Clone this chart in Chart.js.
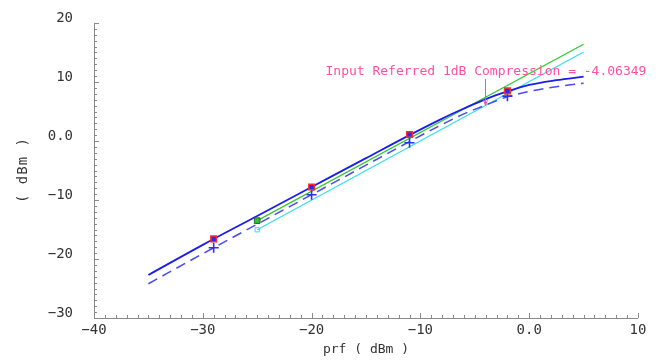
<!DOCTYPE html>
<html>
<head>
<meta charset="utf-8">
<script src="https://cdn.jsdelivr.net/npm/chart.js@4.4.1/dist/chart.umd.min.js"></script>
<style>
  html, body { margin: 0; padding: 0; background: #fff; }
  #wrap { width: 667px; height: 361px; }
</style>
</head>
<body>
<div id="wrap"><canvas id="c" width="667" height="361"></canvas></div>
<script>
// prf sweep (dBm) and output curves
const curveX = [-35, -30, -25, -20, -15, -11, -8, -6, -4, -2, 0, 2.5, 5];
const solidY = [-22.7, -17.6, -12.7, -7.8, -2.9, 1.0, 3.8, 5.5, 7.1, 8.4, 9.5, 10.3, 10.9];
const dashY  = [-24.2, -19.1, -14.1, -9.1, -4.1, -0.1, 2.8, 4.6, 6.1, 7.5, 8.4, 9.2, 9.8];

// extrapolated lines
const greenX = [-25, 5];
const greenY = [-13.5, 16.4];
const cyanX = [-25, 5];
const cyanY = [-15.05, 15.1];

// markers
const markX = [-29, -20, -11, -2];
const markY = [-16.6, -7.8, 1.1, 8.5];
const markDashY = [-18.1, -9.1, -0.3, 7.6];

const xTicks = [-40, -30, -20, -10, 0, 10];
const yTicks = [-30, -20, -10, 0, 20, 10];

const compX = -4.06349;
const compY = 6.0;
const compLabel = 'Input Referred 1dB Compression = -4.06349';

const FONT = '"DejaVu Sans Mono", "Liberation Mono", monospace';

function pts(xs, ys) {
    return xs.map((x, i) => ({ x: x, y: ys[i] }));
}

function fmt(v) {
    if (v === 0) return '0.0';
    return v < 0 ? '\u2212' + Math.abs(v) : String(v);
}

// axis lines + inward minor ticks, drawn from the scales
const axesPlugin = {
    id: 'cadenceAxes',
    beforeDatasetsDraw(chart) {
        const ctx = chart.ctx;
        const xs = chart.scales.x, ys = chart.scales.y;
        const left = xs.getPixelForValue(-40), right = xs.getPixelForValue(10);
        const top = ys.getPixelForValue(20), bottom = ys.getPixelForValue(-30);
        ctx.save();
        ctx.strokeStyle = '#8a8a8a';
        ctx.lineWidth = 1;
        ctx.beginPath();
        ctx.moveTo(left + 0.5, top);
        ctx.lineTo(left + 0.5, bottom + 0.5);
        ctx.lineTo(right, bottom + 0.5);
        ctx.stroke();
        ctx.beginPath();
        for (let v = -30; v <= 20; v++) {
            const py = Math.round(ys.getPixelForValue(v)) + 0.5;
            const len = v % 10 === 0 ? 5 : 3;
            ctx.moveTo(left, py);
            ctx.lineTo(left + len, py);
        }
        for (let v = -40; v <= 10; v++) {
            const px = Math.round(xs.getPixelForValue(v)) + 0.5;
            const len = v % 10 === 0 ? 5 : 3;
            ctx.moveTo(px, bottom);
            ctx.lineTo(px, bottom - len);
        }
        ctx.stroke();

        // axis titles
        ctx.fillStyle = '#333';
        ctx.font = '13px ' + FONT;
        ctx.textAlign = 'center';
        ctx.textBaseline = 'middle';
        ctx.fillText('prf ( dBm )', (chart.chartArea.left + chart.chartArea.right) / 2, 350);
        ctx.font = '14px ' + FONT;
        ctx.letterSpacing = '1px';
        ctx.translate(23, 170);
        ctx.rotate(-Math.PI / 2);
        ctx.fillText('( dBm )', 0, 0);
        ctx.restore();
    },
    afterDatasetsDraw(chart) {
        const ctx = chart.ctx;
        const xs = chart.scales.x, ys = chart.scales.y;
        const ax = Math.round(xs.getPixelForValue(compX)) + 0.5;
        const ay = ys.getPixelForValue(compY);
        ctx.save();
        ctx.strokeStyle = '#ff4f9f';
        ctx.fillStyle = '#ff4f9f';
        ctx.lineWidth = 1;
        ctx.beginPath();
        ctx.moveTo(ax, 79);
        ctx.lineTo(ax, ay);
        ctx.stroke();
        ctx.beginPath();
        ctx.moveTo(ax - 2, ay - 6);
        ctx.lineTo(ax, ay);
        ctx.lineTo(ax + 2, ay - 6);
        ctx.stroke();
        ctx.font = '13px ' + FONT;
        ctx.textAlign = 'left';
        ctx.textBaseline = 'alphabetic';
        ctx.fillText(compLabel, ax - 160, 74.5);
        ctx.restore();
    }
};

new Chart(document.getElementById('c'), {
    type: 'scatter',
    data: {
        datasets: [
            {
                data: pts(markX, markY),
                pointStyle: 'rect', pointRadius: 4,
                backgroundColor: '#2a2ae8', borderColor: '#ff2a2a', borderWidth: 1.5
            },
            {
                data: pts(markX, markDashY),
                pointStyle: 'cross', pointRadius: 5,
                borderColor: '#2f2ff5', borderWidth: 1.6
            },
            {
                data: pts([-25], [-13.5]),
                pointStyle: 'rect', pointRadius: 4,
                backgroundColor: '#2fc02f', borderColor: '#2c6a2c', borderWidth: 1
            },
            {
                data: pts([-25], [-15.05]),
                pointStyle: 'rect', pointRadius: 3,
                backgroundColor: 'rgba(0,0,0,0)', borderColor: '#30e0f0', borderWidth: 1
            },
            {
                data: pts(curveX, solidY), showLine: true, pointRadius: 0,
                borderColor: '#1c1cf0', borderWidth: 1.8, cubicInterpolationMode: 'monotone'
            },
            {
                data: pts(curveX, dashY), showLine: true, pointRadius: 0,
                borderColor: '#4a4af2', borderWidth: 1.5, borderDash: [10, 6],
                cubicInterpolationMode: 'monotone'
            },
            {
                data: pts(greenX, greenY), showLine: true, pointRadius: 0,
                borderColor: '#2ecc2e', borderWidth: 1.3
            },
            {
                data: pts(cyanX, cyanY), showLine: true, pointRadius: 0,
                borderColor: '#33dfee', borderWidth: 1.2
            }
        ]
    },
    options: {
        responsive: false,
        animation: false,
        layout: { padding: { left: 0, right: 29, top: 23, bottom: 0 } },
        plugins: { legend: { display: false }, tooltip: { enabled: false } },
        scales: {
            x: {
                type: 'linear', min: -40, max: 10,
                grid: { display: false, drawTicks: false }, border: { display: false },
                afterBuildTicks: s => { s.ticks = xTicks.map(v => ({ value: v })); },
                afterFit: s => { s.height = 43; s.paddingLeft = 0; s.paddingRight = 0; },
                ticks: {
                    padding: 4, maxRotation: 0, autoSkip: false,
                    color: '#333', font: { family: FONT, size: 14 },
                    callback: v => fmt(v)
                }
            },
            y: {
                type: 'linear', min: -30, max: 20,
                grid: { display: false, drawTicks: false }, border: { display: false },
                afterBuildTicks: s => { s.ticks = yTicks.map(v => ({ value: v })); },
                afterFit: s => { s.width = 94; s.paddingTop = 0; s.paddingBottom = 0; },
                ticks: {
                    padding: 21, labelOffset: -5, autoSkip: false,
                    color: '#333', font: { family: FONT, size: 14 },
                    callback: v => fmt(v)
                }
            }
        }
    },
    plugins: [axesPlugin]
});
</script>
</body>
</html>
